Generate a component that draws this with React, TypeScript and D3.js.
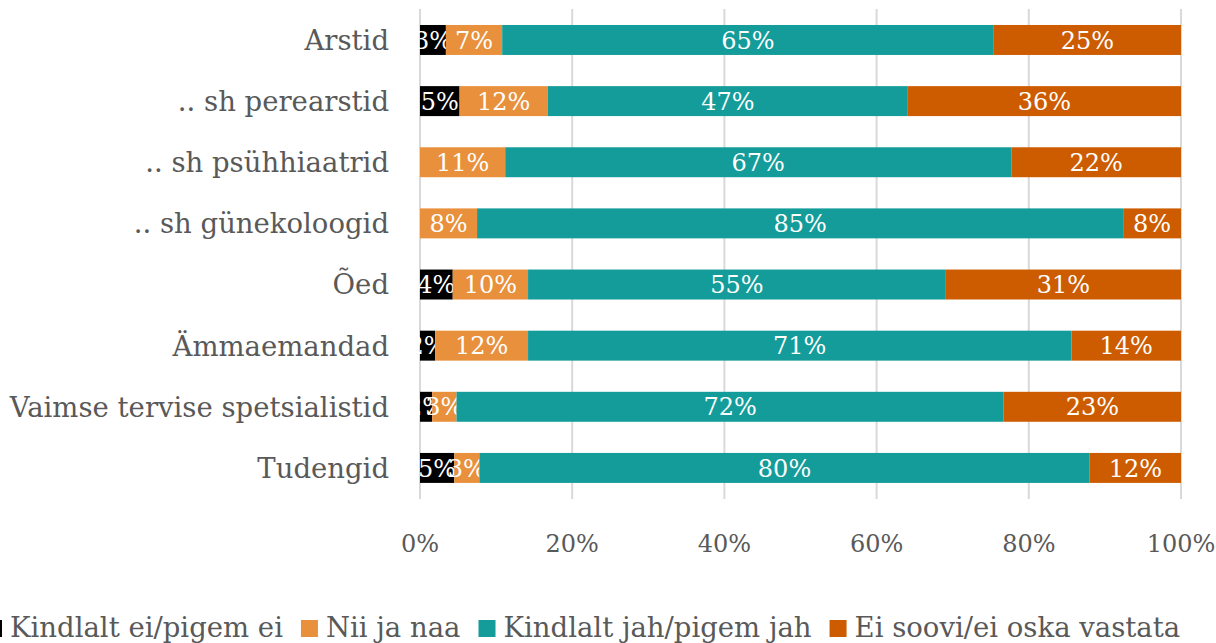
import React, { useEffect, useRef } from "react";
import * as d3 from "d3";

const categories = [
  "Arstid",
  ".. sh perearstid",
  ".. sh psühhiaatrid",
  ".. sh günekoloogid",
  "Õed",
  "Ämmaemandad",
  "Vaimse tervise spetsialistid",
  "Tudengid",
];

const seriesNames = [
  "Kindlalt ei/pigem ei",
  "Nii ja naa",
  "Kindlalt jah/pigem jah",
  "Ei soovi/ei oska vastata",
];

// percentages per category, same order as seriesNames
const kindlaltEi = [3.4, 5.2, 0, 0, 4.3, 2.0, 1.6, 4.5];
const niiJaNaa = [7.4, 11.6, 11.2, 7.5, 9.9, 12.2, 3.2, 3.3];
const kindlaltJah = [64.6, 47.3, 66.5, 84.9, 54.9, 71.4, 71.9, 80.2];
const eiSoovi = [24.6, 35.9, 22.3, 7.6, 30.9, 14.4, 23.3, 12.0];

const xTicks = [0, 20, 40, 60, 80, 100];

const colors = ["#000000", "#E8903C", "#139C99", "#CD5C00"];

const FONT = "'Roboto Slab', 'DejaVu Serif', serif";

const App = () => {
  const chartRef = useRef<SVGSVGElement>(null);

  useEffect(() => {
    const svg = d3.select(chartRef.current);
    svg.selectAll("*").remove();

    const series = [kindlaltEi, niiJaNaa, kindlaltJah, eiSoovi];
    const rows = categories.map((c, i) => {
      const row: any = { cat: c };
      seriesNames.forEach((s, j) => (row[s] = series[j][i]));
      return row;
    });
    const stacked = d3.stack().keys(seriesNames)(rows);

    const x = d3.scaleLinear().domain([0, 100]).range([420, 1181]);
    const y = d3
      .scaleBand()
      .domain(categories)
      .range([9.4, 498.5])
      .paddingInner(0.51)
      .paddingOuter(0.255);

    // grid
    svg
      .append("g")
      .selectAll("line")
      .data(xTicks)
      .enter()
      .append("line")
      .attr("x1", (d) => x(d))
      .attr("x2", (d) => x(d))
      .attr("y1", 9)
      .attr("y2", 499)
      .attr("stroke", "#d9d9d9")
      .attr("stroke-width", 2);

    // bars
    const layers = svg
      .append("g")
      .selectAll("g")
      .data(stacked)
      .enter()
      .append("g")
      .attr("fill", (d, i) => colors[i]);

    layers
      .selectAll("rect")
      .data((d) => d)
      .enter()
      .append("rect")
      .attr("x", (d) => x(d[0]))
      .attr("y", (d) => y(d.data.cat as string)!)
      .attr("width", (d) => x(d[1]) - x(d[0]))
      .attr("height", y.bandwidth());

    // data labels
    layers
      .selectAll("text")
      .data((d) => d.filter((p) => p[1] - p[0] > 0))
      .enter()
      .append("text")
      .attr("x", (d) => (x(d[0]) + x(d[1])) / 2)
      .attr("y", (d) => y(d.data.cat as string)! + y.bandwidth() / 2)
      .attr("dy", "0.36em")
      .attr("text-anchor", "middle")
      .style("font-family", FONT)
      .style("font-size", "24px")
      .style("fill", "#ffffff")
      .text((d) => Math.round(d[1] - d[0]) + "%");

    // category axis
    svg
      .append("g")
      .selectAll("text")
      .data(categories)
      .enter()
      .append("text")
      .attr("x", 389)
      .attr("y", (d) => y(d)! + y.bandwidth() / 2)
      .attr("dy", "0.36em")
      .attr("text-anchor", "end")
      .style("font-family", FONT)
      .style("font-size", "27.5px")
      .style("fill", "#595959")
      .text((d) => d);

    // x axis labels
    svg
      .append("g")
      .selectAll("text")
      .data(xTicks)
      .enter()
      .append("text")
      .attr("x", (d) => x(d))
      .attr("y", 552)
      .attr("text-anchor", "middle")
      .style("font-family", FONT)
      .style("font-size", "24px")
      .style("fill", "#595959")
      .text((d) => d + "%");

    // legend, runs off the left edge like the original
    const legend = svg.append("g");
    const items = legend
      .selectAll("g")
      .data(seriesNames)
      .enter()
      .append("g");
    items
      .append("rect")
      .attr("width", 17)
      .attr("height", 17)
      .attr("y", 620)
      .attr("fill", (d, i) => colors[i]);
    items
      .append("text")
      .attr("x", 25)
      .attr("y", 637)
      .style("font-family", FONT)
      .style("font-size", "27.5px")
      .style("fill", "#595959")
      .text((d) => d);

    let offset = -15;
    const gap = 18;
    const positions: number[] = [];
    items.each(function () {
      const t = d3.select(this).select("text").node() as SVGTextElement;
      positions.push(offset);
      offset += 25 + t.getComputedTextLength() + gap;
    });
    items.attr("transform", (d, i) => `translate(${positions[i]},0)`);
  }, []);

  return (
    <svg
      ref={chartRef}
      width={1216}
      height={643}
      style={{ position: "absolute", left: 0, top: 0, background: "#fff" }}
    ></svg>
  );
};

export default App;
